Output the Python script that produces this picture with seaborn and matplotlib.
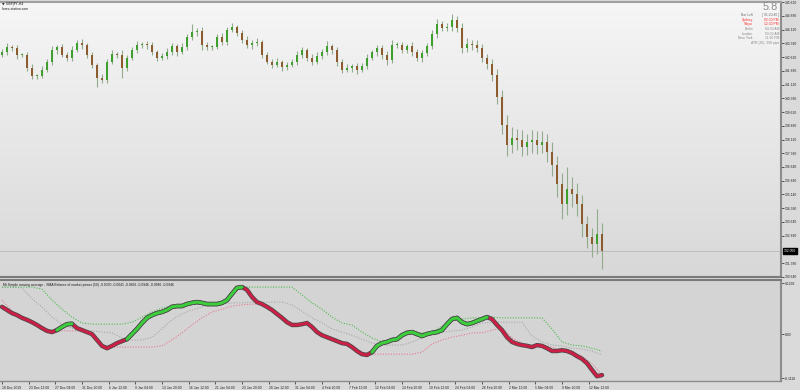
import numpy as np
import pandas as pd
import matplotlib
matplotlib.use("Agg")
import matplotlib.pyplot as plt
import matplotlib.patheffects as pe
from matplotlib.colors import LinearSegmentedColormap
import seaborn as sns

# ---------------- data ----------------
symbol_label = "\u25bc GBPJPY,H4"
site_label = "forex-station.com"
open0 = 142.75
closes = [
    142.91, 143.19, 143.13, 142.75, 142.75, 142.04, 141.61, 141.61, 141.94, 142.37,
    143.02, 143.19, 142.75, 142.59, 143.02, 143.40, 143.29, 142.75, 142.21, 141.50,
    141.39, 142.37, 142.81, 142.75, 142.04, 142.59, 143.02, 143.29, 143.35, 143.29,
    142.91, 142.59, 142.70, 142.91, 143.24, 142.91, 143.19, 143.73, 144.00, 144.06,
    143.29, 143.19, 143.19, 143.73, 143.46, 144.11, 144.27, 143.95, 143.57, 143.29,
    143.40, 143.46, 142.75, 142.37, 142.21, 142.37, 142.10, 142.21, 142.37, 142.75,
    143.02, 142.59, 142.37, 142.70, 142.91, 143.24, 143.02, 142.37, 141.94, 142.04,
    142.15, 141.94, 142.15, 142.59, 142.91, 143.13, 142.75, 142.48, 143.29, 143.29,
    143.02, 143.24, 142.91, 142.59, 142.86, 143.24, 143.89, 144.44, 144.22, 144.27,
    144.65, 144.22, 143.13, 143.35, 143.29, 143.13, 142.59, 142.26, 141.66, 140.47,
    138.95, 137.86, 138.24, 138.13, 137.75, 138.02, 138.13, 137.86, 138.02, 137.48,
    136.77, 135.69, 134.60, 135.41, 135.14, 134.60, 133.51, 132.80, 132.42, 132.97,
    132.05]
wick_up = [
    0.15, 0.20, 0.12, 0.18, 0.10, 0.15, 0.20, 0.12, 0.18, 0.15,
    0.20, 0.12, 0.15, 0.18, 0.22, 0.15, 0.20, 0.12, 0.15, 0.10,
    0.18, 0.15, 0.20, 0.12, 0.25, 0.15, 0.18, 0.20, 0.12, 0.15,
    0.18, 0.12, 0.15, 0.20, 0.15, 0.12, 0.20, 0.18, 0.45, 0.15,
    0.20, 0.15, 0.12, 0.18, 0.22, 0.15, 0.20, 0.12, 0.15, 0.18,
    0.15, 0.20, 0.12, 0.18, 0.15, 0.20, 0.12, 0.15, 0.18, 0.20,
    0.15, 0.12, 0.18, 0.20, 0.15, 0.25, 0.12, 0.18, 0.15, 0.20,
    0.12, 0.18, 0.15, 0.20, 0.12, 0.18, 0.15, 0.20, 0.25, 0.15,
    0.18, 0.12, 0.20, 0.15, 0.18, 0.15, 0.20, 0.25, 0.18, 0.20,
    0.30, 0.20, 0.25, 0.30, 0.22, 0.25, 0.20, 0.18, 0.25, 0.30,
    0.35, 0.50, 0.60, 0.45, 0.55, 0.40, 0.50, 0.45, 0.60, 0.40,
    0.50, 0.45, 0.60, 1.20, 0.70, 0.60, 0.50, 0.45, 0.50, 1.40,
    0.60]
wick_dn = [
    0.12, 0.18, 0.15, 0.20, 0.12, 0.15, 0.20, 0.18, 0.12, 0.15,
    0.15, 0.20, 0.12, 0.18, 0.15, 0.12, 0.20, 0.15, 0.18, 0.50,
    0.20, 0.15, 0.12, 0.18, 0.55, 0.15, 0.12, 0.18, 0.15, 0.20,
    0.15, 0.20, 0.12, 0.18, 0.15, 0.20, 0.12, 0.15, 0.18, 0.20,
    0.25, 0.15, 0.20, 0.12, 0.18, 0.15, 0.12, 0.20, 0.15, 0.18,
    0.20, 0.15, 0.18, 0.12, 0.20, 0.15, 0.25, 0.18, 0.12, 0.15,
    0.18, 0.20, 0.15, 0.12, 0.18, 0.15, 0.20, 0.25, 0.18, 0.15,
    0.20, 0.25, 0.15, 0.18, 0.12, 0.20, 0.22, 0.30, 0.15, 0.18,
    0.15, 0.18, 0.20, 0.15, 0.22, 0.15, 0.18, 0.20, 0.15, 0.18,
    0.20, 0.25, 0.30, 0.22, 0.25, 0.20, 0.25, 0.30, 0.35, 0.40,
    0.50, 0.60, 0.45, 0.55, 0.50, 0.45, 0.60, 0.50, 0.45, 0.55,
    0.60, 0.70, 0.80, 0.60, 0.70, 0.65, 0.70, 0.60, 0.70, 0.55,
    0.95]
price_ticks = [145.620, 144.880, 144.120, 143.380, 142.620, 141.880, 141.120,
               140.380, 139.620, 138.880, 138.120, 137.380, 136.640, 135.880,
               135.140, 134.380, 133.640, 132.880, 131.380, 130.640]

# indicator: SMA of Balance of Market Power
bmp_sma = [
    0.069, 0.061, 0.053, 0.048, 0.041, 0.036, 0.030, 0.023, 0.015, 0.008,
    0.005, 0.010, 0.018, 0.025, 0.026, 0.015, 0.010, 0.005, 0.000, -0.015,
    -0.030, -0.036, -0.030, -0.023, -0.018, -0.013, 0.000, 0.013, 0.028, 0.041,
    0.048, 0.053, 0.056, 0.061, 0.069, 0.071, 0.071, 0.076, 0.079, 0.081,
    0.079, 0.076, 0.076, 0.076, 0.079, 0.086, 0.102, 0.117, 0.119, 0.112,
    0.094, 0.081, 0.076, 0.069, 0.061, 0.051, 0.041, 0.030, 0.023, 0.023,
    0.025, 0.028, 0.018, 0.005, -0.003, -0.008, -0.013, -0.018, -0.023, -0.025,
    -0.033, -0.043, -0.051, -0.053, -0.046, -0.030, -0.023, -0.020, -0.015, -0.013,
    -0.003, 0.003, 0.005, 0.000, -0.005, 0.000, 0.003, 0.005, 0.010, 0.025,
    0.038, 0.041, 0.030, 0.025, 0.028, 0.033, 0.038, 0.043, 0.038, 0.023,
    0.010, -0.008, -0.020, -0.025, -0.028, -0.030, -0.033, -0.028, -0.030, -0.036,
    -0.043, -0.043, -0.041, -0.043, -0.048, -0.056, -0.063, -0.074, -0.091, -0.107,
    -0.104]
green_ranges = [(11, 14), (25, 48), (74, 97)]
band_hi = [
    0.119, 0.119, 0.119, 0.119, 0.114, 0.086, 0.063, 0.043, 0.028, 0.025,
    0.025, 0.025, 0.025, 0.030, 0.043, 0.056, 0.066, 0.071, 0.074, 0.076,
    0.079, 0.079, 0.079, 0.102, 0.119, 0.119, 0.119, 0.119, 0.119, 0.119,
    0.099, 0.079, 0.063, 0.043, 0.028, 0.023, 0.005, -0.010, -0.020, -0.015,
    -0.005, 0.003, 0.003, 0.005, 0.020, 0.036, 0.038, 0.041, 0.041, 0.043,
    0.041, 0.041, 0.041, 0.041, 0.041, 0.013, -0.020, -0.028, -0.030, -0.036,
    -0.043]
band_mid = [
    0.119, 0.119, 0.117, 0.089, 0.069, 0.043, 0.025, 0.015, 0.010, 0.008,
    0.005, 0.003, -0.010, -0.015, -0.015, -0.008, 0.013, 0.036, 0.051, 0.061,
    0.069, 0.074, 0.076, 0.079, 0.079, 0.081, 0.081, 0.081, 0.081, 0.074,
    0.058, 0.041, 0.028, 0.013, 0.005, -0.003, -0.013, -0.023, -0.028, -0.028,
    -0.028, -0.020, -0.010, 0.000, 0.005, 0.008, 0.010, 0.018, 0.028, 0.030,
    0.030, 0.030, 0.030, -0.005, -0.020, -0.028, -0.030, -0.036, -0.038, -0.043,
    -0.053]
band_lo = [
    0.086, 0.058, 0.043, 0.033, 0.018, 0.008, 0.008, 0.008, 0.008, 0.003,
    -0.028, -0.033, -0.033, -0.033, -0.033, -0.033, -0.030, -0.015, 0.003, 0.023,
    0.041, 0.056, 0.063, 0.071, 0.074, 0.076, 0.076, 0.063, 0.043, 0.028,
    0.025, 0.020, 0.000, -0.010, -0.020, -0.028, -0.046, -0.051, -0.051, -0.051,
    -0.051, -0.051, -0.046, -0.025, -0.015, -0.008, -0.003, 0.003, 0.003, 0.010,
    0.015, -0.010, -0.023, -0.030, -0.028, -0.033, -0.043, -0.046, -0.056, -0.076,
    -0.102]
ind_ticks = [0.1293, 0.0, -0.1118]
ind_tick_labels = ["0.1293", "0.00", "-0.1118"]
ind_legend = ("Mt Simple moving average - SMA Balance of market power (50) "
              "-0.0350 -0.0041 -0.0896 -0.0946 -0.0946 -0.0946")
time_labels = ["18 Dec 2019", "23 Dec 12:00", "27 Dec 04:00", "31 Dec 20:00",
               "6 Jan 12:00", "9 Jan 04:00", "13 Jan 20:00", "16 Jan 12:00",
               "21 Jan 04:00", "23 Jan 20:00", "28 Jan 12:00", "31 Jan 04:00",
               "4 Feb 20:00", "7 Feb 12:00", "12 Feb 04:00", "14 Feb 20:00",
               "19 Feb 12:00", "24 Feb 04:00", "26 Feb 20:00", "2 Mar 12:00",
               "5 Mar 04:00", "9 Mar 20:00", "12 Mar 12:00"]
big_value = "5.8"
info_rows = [("Bar Left", "[ 01:20:40 ]", "#707070"),
             ("Sydney", "02:30 PM", "#ff2a2a"),
             ("Tokyo", "12:30 PM", "#ff2a2a"),
             ("Berlin", "04:30 AM", "#8a8a8a"),
             ("London", "03:30 AM", "#8a8a8a"),
             ("New York", "11:30 PM", "#8a8a8a")]
atr_text = "ATR (20): 208 pips"

# ---------------- style ----------------
sns.set_theme(style="white")
plt.rcParams['font.family'] = ['Liberation Sans', 'DejaVu Sans']
FS = 2.4

W, H = 800, 390
fig = plt.figure(figsize=(W / 100, H / 100), dpi=100)
fig.patch.set_facecolor('#dadada')

ax = fig.add_axes([0, 1 - 277 / H, 781 / W, 275 / H])
axi = fig.add_axes([0, 1 - 381 / H, 781 / W, 101 / H])

XMIN, XMAX = -1.2, 467.4
PMIN, PMAX = 130.685, 145.63
IMIN, IMAX = -0.119, 0.137

# ---------------- main price panel ----------------
bg = LinearSegmentedColormap.from_list('bg', ['#f6f6f6', '#d8d8d8'])
ax.imshow(np.linspace(0, 1, 256).reshape(-1, 1), extent=[XMIN, XMAX, PMIN, PMAX],
          aspect='auto', cmap=bg, origin='upper', zorder=0)

n = len(closes)
pos = np.arange(n) * 3.0
c = np.array(closes)
o = np.array([open0] + closes[:-1])
hi = np.maximum(o, c) + np.array(wick_up)
lo = np.minimum(o, c) - np.array(wick_dn)
bull = c >= o
body_col = np.where(bull, '#3e9f2c', '#8c5b2e')

ax.vlines(pos, lo, hi, color='#93ab8d', lw=0.8, zorder=2)
bottoms = np.minimum(o, c)
heights = np.maximum(np.abs(c - o), 0.04)
ax.bar(pos, heights, bottom=bottoms, width=1.25, color=body_col, linewidth=0, zorder=3)

ax.axhline(closes[-1], color='#b8b8b8', lw=0.6, zorder=1)

ax.set_xlim(XMIN, XMAX)
ax.set_ylim(PMIN, PMAX)
ax.yaxis.tick_right()
ax.set_yticks(price_ticks)
ax.set_yticklabels([f"{t:.3f}" for t in price_ticks])
ax.tick_params(axis='y', right=True, length=2, width=0.5, pad=1,
               labelsize=FS, colors='#222222')
ax.set_xticks([])
ax.spines['left'].set_visible(False)
ax.spines['right'].set_color('#8c8c8c'); ax.spines['right'].set_linewidth(1.5)
ax.spines['bottom'].set_color('#7a7a7a'); ax.spines['bottom'].set_linewidth(1.5)
ax.spines['top'].set_color('#a0a0a0'); ax.spines['top'].set_linewidth(1.5)

ax.annotate(f"{closes[-1]:.3f}", xy=(1.0, closes[-1]), xycoords=('axes fraction', 'data'),
            xytext=(2, 0), textcoords='offset points', fontsize=FS, color='white',
            va='center', ha='left', annotation_clip=False,
            bbox=dict(boxstyle='square,pad=0.35', fc='black', ec='black'))

# ---------------- indicator panel ----------------
axi.set_facecolor('#d4d4d4')
dpos = np.arange(len(band_hi)) * 6.0
dot = (0, (1, 1.4))
sns.lineplot(x=dpos, y=band_mid, ax=axi, color='#a8a8a8', lw=0.8, linestyle=dot)
sns.lineplot(x=dpos, y=band_hi, ax=axi, color='#4cbb4c', lw=0.8, linestyle=dot)
sns.lineplot(x=dpos, y=band_lo, ax=axi, color='#e87a90', lw=0.8, linestyle=dot)

stroke = [pe.Stroke(linewidth=3.2, foreground='#4a4a4a'), pe.Normal()]
ind = pd.DataFrame({'x': pos, 'v': bmp_sma})
sns.lineplot(data=ind, x='x', y='v', ax=axi, color='#cc1f45', lw=2.1,
             path_effects=stroke, solid_capstyle='round')
for a, b in green_ranges:
    seg = ind.iloc[a:b + 1]
    sns.lineplot(data=seg, x='x', y='v', ax=axi, color='#3ccf3c', lw=2.1,
                 path_effects=stroke, solid_capstyle='round')

axi.set_xlim(XMIN, XMAX)
axi.set_ylim(IMIN, IMAX)
axi.set_xlabel(''); axi.set_ylabel('')
axi.yaxis.tick_right()
axi.set_yticks(ind_ticks)
axi.set_yticklabels(ind_tick_labels)
axi.tick_params(axis='y', right=True, length=2, width=0.5, pad=1,
                labelsize=FS, colors='#222222')
axi.set_xticks(np.arange(len(time_labels)) * 16.0)
axi.set_xticklabels(time_labels)
axi.tick_params(axis='x', bottom=True, length=2.5, width=0.5, pad=1,
                labelsize=FS, colors='#222222')
for lbl in axi.get_xticklabels():
    lbl.set_horizontalalignment('left')
axi.spines['left'].set_visible(False)
axi.spines['right'].set_color('#8c8c8c'); axi.spines['right'].set_linewidth(1.5)
axi.spines['top'].set_color('#7a7a7a'); axi.spines['top'].set_linewidth(1.5)
axi.spines['bottom'].set_color('#8c8c8c'); axi.spines['bottom'].set_linewidth(1.0)

axi.text(3 / 781, 0.955, ind_legend, transform=axi.transAxes, fontsize=FS,
         color='#1a1a1a', ha='left', va='center')

# ---------------- overlay texts ----------------
fig.text(2 / W, 1 - 4.5 / H, symbol_label, fontsize=FS, color='#1a1a1a',
         ha='left', va='center', family=['DejaVu Sans'])
fig.text(2 / W, 1 - 8.8 / H, site_label, fontsize=FS, color='#1a1a1a',
         ha='left', va='center')
fig.text(770 / W, 1 - 7.5 / H, big_value, fontsize=7.8, color='#8c8c8c',
         ha='center', va='center')
row_y = [15, 19.8, 24.3, 29.2, 33.7, 38.3]
for (name, val, col), yy in zip(info_rows, row_y):
    fig.text(753 / W, 1 - yy / H, name, fontsize=FS, color=col, ha='right', va='center')
    fig.text(779 / W, 1 - yy / H, val, fontsize=FS, color=col, ha='right', va='center')
fig.text(779 / W, 1 - 43.3 / H, atr_text, fontsize=FS, color='#8a8a8a',
         ha='right', va='center')

fig.savefig('out.png', dpi=100, facecolor=fig.get_facecolor())
